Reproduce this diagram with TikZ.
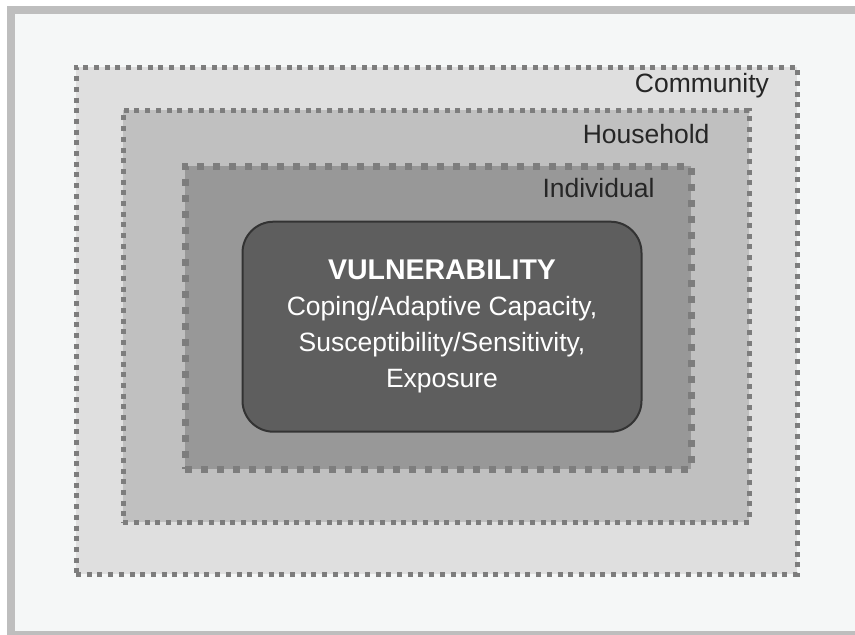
\documentclass[tikz,border=0pt]{standalone}
\usepackage{fontspec}
\setmainfont{Liberation Sans}
\usetikzlibrary{positioning}

\definecolor{framegray}{RGB}{190,190,190}
\definecolor{bgpale}{RGB}{245,247,247}
\definecolor{dotgray}{RGB}{125,125,125}
\definecolor{commfill}{RGB}{223,223,223}
\definecolor{housefill}{RGB}{192,192,192}
\definecolor{indivfill}{RGB}{152,152,152}
\definecolor{vulnfill}{RGB}{94,94,94}
\definecolor{vulnline}{RGB}{51,51,51}

\tikzset{
  layer/.style={draw=dotgray, inner sep=0pt, line width=5pt, dash pattern=on 5pt off 5.7pt},
  layerlabel/.style={anchor=base east, text=black!85, font=\fontsize{26.5}{32}\selectfont},
}

\begin{document}
\begin{tikzpicture}[x=1pt, y=-1pt]
 \useasboundingbox (0,0) rectangle (855,635);

 %frame
 \fill[white] (0,0) rectangle (855,635);
 \fill[framegray] (7,6) rectangle (855,635);
 \fill[bgpale] (15,14) rectangle (855,631);

 %level 1
 \node[layer, fill=commfill, minimum width=721, minimum height=507] (community) at (436.5,320.5) {};
 \node[layerlabel] (communitylabel) at (772.5,92.5) {Community};

 %level 2
 \node[layer, fill=housefill, minimum width=626, minimum height=412] (household) at (436.2,316.2) {};
 \node[layerlabel] (householdlabel) at (713,143) {Household};

 %level 3
 \node[layer, fill=indivfill, line width=7pt, dash pattern=on 7pt off 9pt,
       minimum width=506, minimum height=303] (individual) at (438,317.5) {};
 \node[layerlabel] (individuallabel) at (658,197) {Individual};

 %core
 \node[draw=vulnline, fill=vulnfill, line width=2pt, rounded corners=31pt,
       minimum width=399, minimum height=210, text=white, align=center,
       font=\fontsize{26.5}{36}\selectfont] (vulnerability) at (442,326.7)
       {{\fontsize{28.5}{36}\selectfont\bfseries VULNERABILITY}\\Coping/Adaptive Capacity,\\Susceptibility/Sensitivity,\\Exposure};

\end{tikzpicture}
\end{document}
